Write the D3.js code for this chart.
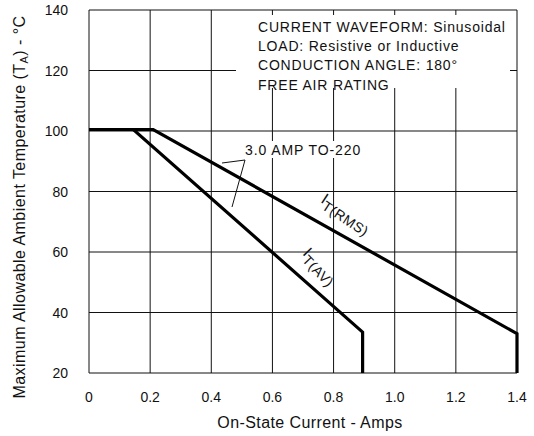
<!DOCTYPE html>
<html>
<head>
    <script src="https://d3js.org/d3.v7.min.js" charset="utf-8"></script>
    <style>
        body { margin: 0; background: #fff; }
        text { font-family: "Liberation Sans", Arial, sans-serif; fill: #111; }
    </style>
</head>
<body>
    <script>
        // derating curves
        var rmsAmps = [0, 0.21, 1.4, 1.4]
        var rmsTemp = [100.5, 100.5, 33, 20]
        var avAmps = [0, 0.145, 0.895, 0.895]
        var avTemp = [100.5, 100.5, 33.5, 20]
        var xTicks = [0, 0.2, 0.4, 0.6, 0.8, 1.0, 1.2, 1.4]
        var yTicks = [20, 40, 60, 80, 100, 120, 140]
        var notes = ["CURRENT WAVEFORM: Sinusoidal", "LOAD: Resistive or Inductive",
            "CONDUCTION ANGLE: 180\u00b0", "FREE AIR RATING"]

        var svg = d3.select("body")
            .append("svg")
            .attr("width", 534)
            .attr("height", 436)

        var x = d3.scaleLinear().domain([0, 1.4]).range([89, 517])
        var y = d3.scaleLinear().domain([20, 140]).range([373, 10])

        // grid
        svg.selectAll(".vg").data(xTicks).enter().append("line")
            .attr("x1", d => x(d)).attr("x2", d => x(d))
            .attr("y1", y(20)).attr("y2", y(140))
            .attr("stroke", "#111").attr("stroke-width", 1)
        svg.selectAll(".hg").data(yTicks).enter().append("line")
            .attr("x1", x(0)).attr("x2", x(1.4))
            .attr("y1", d => y(d)).attr("y2", d => y(d))
            .attr("stroke", "#111").attr("stroke-width", 1)

        // tick labels
        svg.selectAll(".xt").data(xTicks).enter().append("text")
            .attr("x", d => x(d)).attr("y", 402)
            .attr("text-anchor", "middle").attr("font-size", 14)
            .text(d => d == 0 ? "0" : d.toFixed(1))
        svg.selectAll(".yt").data(yTicks).enter().append("text")
            .attr("x", 68).attr("y", d => y(d) + 5)
            .attr("text-anchor", "end").attr("font-size", 14)
            .text(d => d)

        // note box with white background
        svg.append("rect").attr("x", 236).attr("y", 15).attr("width", 274).attr("height", 73)
            .attr("fill", "#fff")
        svg.selectAll(".note").data(notes).enter().append("text")
            .attr("x", 258).attr("y", (d, i) => 32 + i * 19.2)
            .attr("font-size", 14).attr("letter-spacing", 0.8)
            .text(d => d)

        // curves
        var line = d3.line().x(d => x(d[0])).y(d => y(d[1]))
        svg.append("path").datum(rmsAmps.map((a, i) => [a, rmsTemp[i]]))
            .attr("d", line).attr("fill", "none").attr("stroke", "#000")
            .attr("stroke-width", 3.2).attr("stroke-linejoin", "miter")
        svg.append("path").datum(avAmps.map((a, i) => [a, avTemp[i]]))
            .attr("d", line).attr("fill", "none").attr("stroke", "#000")
            .attr("stroke-width", 3.2).attr("stroke-linejoin", "miter")

        // 3.0 AMP TO-220 label with leader lines
        svg.append("rect").attr("x", 240).attr("y", 141).attr("width", 122).attr("height", 17)
            .attr("fill", "#fff")
        svg.append("text").attr("x", 245).attr("y", 155).attr("font-size", 14)
            .attr("letter-spacing", 0.9)
            .text("3.0 AMP TO-220")
        svg.append("path")
            .attr("d", "M245,160 L222,163 M245,160 L232,207")
            .attr("fill", "none").attr("stroke", "#111").attr("stroke-width", 1)

        // curve labels, rotated along the lines
        var rmsLab = svg.append("text").attr("font-size", 16)
            .attr("transform", "translate(320,202) rotate(33)")
        rmsLab.append("tspan").text("I")
        rmsLab.append("tspan").attr("dy", 5).attr("font-size", 14).attr("letter-spacing", 0.5).text("T(RMS)")
        var avLab = svg.append("text").attr("font-size", 16)
            .attr("transform", "translate(302,254) rotate(46)")
        avLab.append("tspan").text("I")
        avLab.append("tspan").attr("dy", 5).attr("font-size", 14).attr("letter-spacing", 0.5).text("T(AV)")

        // axis titles
        svg.append("text").attr("x", 310).attr("y", 428)
            .attr("text-anchor", "middle").attr("font-size", 16).attr("letter-spacing", 0.4)
            .text("On-State Current - Amps")
        var yl = svg.append("text").attr("font-size", 16).attr("text-anchor", "middle")
            .attr("letter-spacing", 0.45)
            .attr("transform", "translate(25,207) rotate(-90)")
        yl.append("tspan").text("Maximum Allowable Ambient Temperature (T")
        yl.append("tspan").attr("font-size", 11).attr("dy", 3).text("A")
        yl.append("tspan").attr("dy", -3).text(") - \u00b0C")
    </script>
</body>
</html>
